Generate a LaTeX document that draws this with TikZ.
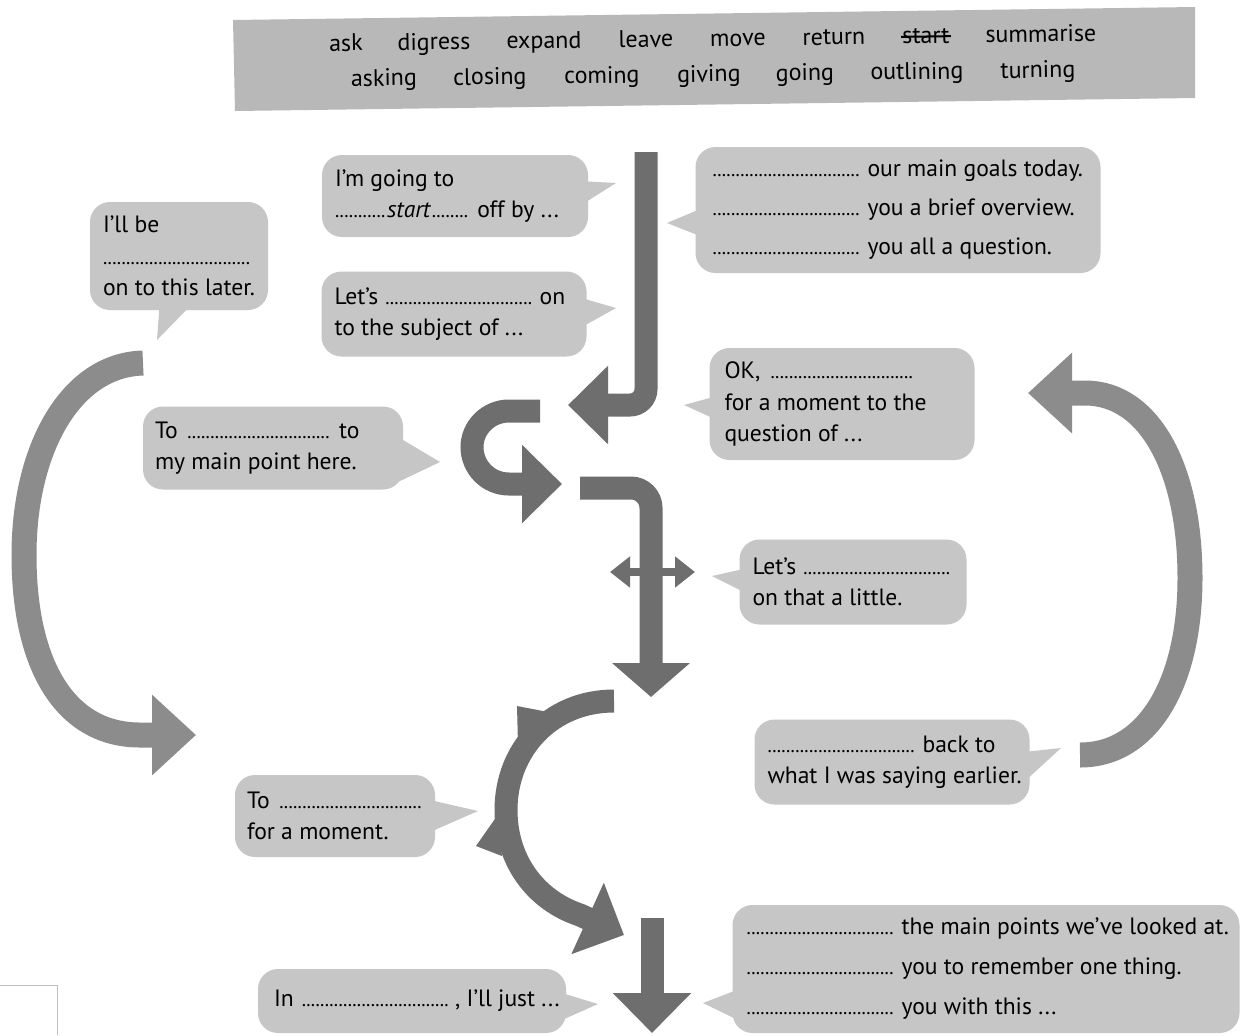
\documentclass[tikz,border=0pt]{standalone}
\usepackage{fontspec}
\setmainfont{PT Sans}
\usetikzlibrary{arrows.meta,calc}
\definecolor{bubfill}{HTML}{C6C6C6}
\definecolor{barfill}{HTML}{B8B8B8}
\definecolor{arrdark}{HTML}{6E6E6E}
\definecolor{arrlight}{HTML}{8C8C8C}
\newcommand\dlw[1]{\leavevmode\leaders\hbox to 2.3pt{\hss\fontsize{10}{10}\selectfont.\hss}\hskip #1\relax\mbox{}}
\newcommand\dl{\dlw{75pt}}
\newcommand\gap{\hspace{2.5pt}}
\begin{document}
\begin{tikzpicture}[x=0.5pt,y=-0.5pt,
  bubble/.style={fill=bubfill, rounded corners=10pt, inner sep=0pt, draw=none},
  tail/.style={fill=bubfill},
  btext/.style={anchor=west, align=left, inner sep=0pt, font=\fontsize{11.8}{15.75}\selectfont},
  word/.style={font=\fontsize{12}{14}\selectfont, rotate=0.8, inner sep=0pt, anchor=base},
  bigarrow/.style={draw=arrdark, line width=11.5pt, -{Triangle[length=20pt,width=38pt]}},
  sidearrow/.style={draw=arrlight, line width=12.5pt, -{Triangle[length=22pt,width=39pt]}}
]
\useasboundingbox (0,0) rectangle (1247,1035);
\fill[white] (0,0) rectangle (1247,1035);

% word bar
\fill[barfill] (233,20) -- (1195,7) -- (1195,98) -- (235,111) -- cycle;
\node[word] (w1) at (346,51) {ask};
\node[word] (w2) at (434,49.9) {digress};
\node[word] (w3) at (544,48.4) {expand};
\node[word] (w4) at (646,47.1) {leave};
\node[word] (w5) at (738,45.9) {move};
\node[word] (w6) at (834,44.7) {return};
\node[word] (w7) at (926,43.5) {start};
\node[word] (w8) at (1041,42) {summarise};
\draw[line width=1pt] ($(w7.base west)+(-1,-7)$) -- ($(w7.base east)+(1,-7)$);
\node[word] (v1) at (384,86) {asking};
\node[word] (v2) at (490,84.7) {closing};
\node[word] (v3) at (602,83.3) {coming};
\node[word] (v4) at (709,81.9) {giving};
\node[word] (v5) at (805,80.7) {going};
\node[word] (v6) at (917,79.3) {outlining};
\node[word] (v7) at (1038,77.8) {turning};

% bubbles
\node[bubble, minimum width=133pt, minimum height=41pt] (b1) at (455,196) {};
\fill[tail] (578,181) -- (616,183) -- (578,207) -- cycle;
\node[btext] (t1) at ([xshift=6.5pt]b1.west) {I’m going to\\\dlw{26pt}\textit{start}\dlw{20pt}\hspace{3pt}off by ...};

\node[bubble, minimum width=132.5pt, minimum height=42.5pt] (b2) at (454,314) {};
\fill[tail] (578,297) -- (616,308) -- (580,328) -- cycle;
\node[btext] (t2) at ([xshift=6.5pt]b2.west) {Let’s \dl\gap on\\to the subject of ...};

\node[bubble, minimum width=202.5pt, minimum height=63pt] (b3) at (898,210) {};
\fill[tail] (705,207) -- (667,223) -- (700,236) -- cycle;
\node[btext] (t3) at ([xshift=8.5pt]b3.west) {\dl\gap our main goals today.\\[3.75pt]\dl\gap you a brief overview.\\[3.75pt]\dl\gap you all a question.};

\node[bubble, minimum width=89pt, minimum height=54pt] (b4) at (179,256) {};
\fill[tail] (160,300) -- (157,340) -- (196,300) -- cycle;
\node[btext] (t4) at ([xshift=6.5pt]b4.west) {I’ll be\\\dl\\on to this later.};

\node[bubble, minimum width=130pt, minimum height=41.5pt] (b5) at (273,448) {};
\fill[tail] (398,437) -- (440,462) -- (398,482) -- cycle;
\node[btext] (t5) at ([xshift=6pt]b5.west) {To \dl\gap to\\my main point here.};

\node[bubble, minimum width=132.5pt, minimum height=56pt] (b6) at (842,404) {};
\fill[tail] (717,396) -- (684,405) -- (717,420) -- cycle;
\node[btext] (t6) at ([xshift=7.5pt]b6.west) {OK, \dl\\for a moment to the\\question of ...};

\node[bubble, minimum width=113.5pt, minimum height=42.5pt] (b7) at (853,582) {};
\fill[tail] (748,568) -- (712,576) -- (748,594) -- cycle;
\node[btext] (t7) at ([xshift=6.5pt]b7.west) {Let’s \dl\\on that a little.};

\node[bubble, minimum width=137.5pt, minimum height=42.5pt] (b8) at (892,762) {};
\fill[tail] (1024,752) -- (1061,748) -- (1024,782) -- cycle;
\node[btext] (t8) at ([xshift=6.5pt]b8.west) {\dl\gap back to\\what I was saying earlier.};

\node[bubble, minimum width=100pt, minimum height=41pt] (b9) at (335,816) {};
\fill[tail] (430,800) -- (478,811) -- (430,832) -- cycle;
\node[btext] (t9) at ([xshift=6pt]b9.west) {To \dl\\for a moment.};

\node[bubble, minimum width=154pt, minimum height=32pt] (b10) at (412,1001) {};
\fill[tail] (562,993) -- (598,1004) -- (562,1020) -- cycle;
\node[btext] (t10) at ([xshift=8pt]b10.west) {In \dl\gap, I’ll just ...};

\node[bubble, minimum width=253.5pt, minimum height=64pt] (b11) at (986,969) {};
\fill[tail] (742,988) -- (703,1003) -- (742,1022) -- cycle;
\node[btext] (t11) at ([xshift=7pt]b11.west) {\dl\gap the main points we’ve looked at.\\[4.25pt]\dl\gap you to remember one thing.\\[4.25pt]\dl\gap you with this ...};

% central arrows
\draw[bigarrow, rounded corners=8pt] (646,152) -- (646,405) -- (568,405);
\draw[bigarrow] (540,411) -- (509,411) .. controls (488,411) and (472,428) .. (472,447) .. controls (472,467) and (488,484) .. (509,484) -- (562,484);
\draw[bigarrow, rounded corners=10pt, -{Triangle[length=17pt,width=38pt]}] (580,488) -- (651,488) -- (651,697);
\draw[draw=arrdark, line width=4pt, {Triangle[length=10pt,width=15pt]}-{Triangle[length=10pt,width=15pt]}] (610,572) -- (695,572);
\draw[bigarrow] (614,701) .. controls (550,701) and (506,750) .. (506,810) .. controls (506,860) and (535,900) .. (580,915) -- (624,935);
\fill[arrdark] (517,706) -- (548,712) -- (518,745) -- cycle;
\fill[arrdark] (476,846) -- (497,816) -- (502,856) -- cycle;
\draw[bigarrow] (652,918) -- (652,1033);

% side arcs
\draw[sidearrow] (143,363) .. controls (70,365) and (24,450) .. (24,555) .. controls (24,665) and (65,735) .. (140,735) -- (196,735);
\draw[sidearrow] (1080,755) .. controls (1150,755) and (1190,680) .. (1190,578) .. controls (1190,470) and (1150,393) .. (1085,393) -- (1028,393);

\draw[gray!50, line width=0.5pt] (0,985) -- (57,985) -- (57,1035);
\end{tikzpicture}
\end{document}
